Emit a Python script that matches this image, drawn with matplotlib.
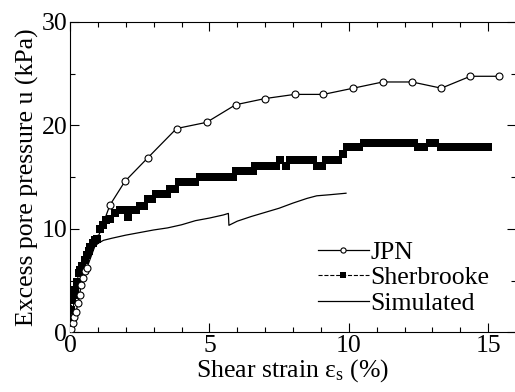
import matplotlib
matplotlib.use("Agg")
import matplotlib.pyplot as plt
from matplotlib.ticker import MultipleLocator

# JPN test (open circles)
jpn_x = [0.0, 0.05, 0.10, 0.15, 0.22, 0.28, 0.34, 0.40, 0.46, 0.54, 0.60,
         1.43, 1.97, 2.80, 3.82, 4.90, 5.94, 7.00, 8.06, 9.09, 10.16,
         11.22, 12.27, 13.32, 14.36, 15.40]
jpn_y = [0.0, 0.3, 0.9, 1.5, 2.0, 2.8, 3.6, 4.6, 5.3, 5.9, 6.2,
         12.3, 14.6, 16.9, 19.7, 20.3, 22.0, 22.6, 23.0, 23.0, 23.6,
         24.2, 24.2, 23.6, 24.75, 24.75]

# Sherbrooke test (filled squares)
sher_x = [0.00, 0.02, 0.03, 0.07, 0.13, 0.19, 0.25, 0.31, 0.37, 0.43, 0.52,
          0.61, 0.67, 0.73, 0.82, 0.90, 0.97, 1.07, 1.20, 1.30, 1.45, 1.60,
          1.79, 1.95, 2.08, 2.20, 2.35, 2.50, 2.65, 2.80, 2.95, 3.10, 3.30,
          3.47, 3.60, 3.78, 3.92, 4.10, 4.30, 4.50, 4.65, 4.85, 5.05, 5.25,
          5.45, 5.65, 5.85, 5.95, 6.15, 6.35, 6.55, 6.65, 6.85, 7.05, 7.25,
          7.40, 7.52, 7.75, 7.90, 8.10, 8.30, 8.50, 8.70, 8.85, 9.05, 9.20,
          9.40, 9.60, 9.78, 9.95, 10.15, 10.35, 10.55, 10.75, 10.95, 11.15,
          11.35, 11.55, 11.75, 11.95, 12.15, 12.35, 12.50, 12.70, 12.90,
          13.10, 13.30, 13.50, 13.70, 13.90, 14.10, 14.30, 14.50, 14.70,
          14.90, 15.00]
sher_y = [0.0, 1.3, 2.2, 3.1, 3.6, 4.1, 4.9, 5.7, 6.0, 6.4, 7.0,
          7.5, 7.9, 8.3, 8.6, 8.9, 9.0, 10.0, 10.4, 10.9, 11.0, 11.5,
          11.8, 11.8, 11.2, 11.8, 11.8, 12.2, 12.2, 12.9, 12.9, 13.35, 13.35,
          13.35, 13.9, 13.9, 14.5, 14.5, 14.5, 14.5, 15.0, 15.0, 15.0, 15.0,
          15.0, 15.0, 15.0, 15.6, 15.6, 15.6, 15.6, 16.1, 16.1, 16.1, 16.1,
          16.1, 16.7, 16.1, 16.7, 16.7, 16.7, 16.7, 16.7, 16.1, 16.1, 16.7,
          16.7, 16.7, 17.25, 17.9, 17.9, 17.9, 18.35, 18.35, 18.35, 18.35,
          18.35, 18.35, 18.35, 18.35, 18.35, 18.35, 17.9, 17.9, 18.35,
          18.35, 17.9, 17.9, 17.9, 17.9, 17.9, 17.9, 17.9, 17.9,
          17.9, 17.9]

# Simulated
sim_x = [0.0, 0.05, 0.15, 0.30, 0.50, 0.70, 0.85, 1.00, 1.20, 1.50, 2.00,
         2.50, 3.00, 3.50, 4.00, 4.50, 5.00, 5.50, 5.68, 5.70, 6.00, 6.50,
         7.00, 7.50, 8.00, 8.50, 8.85, 9.30, 9.90]
sim_y = [0.0, 1.5, 3.0, 4.6, 6.2, 7.5, 8.2, 8.6, 8.9, 9.1, 9.4,
         9.65, 9.9, 10.1, 10.4, 10.8, 11.05, 11.35, 11.5, 10.35, 10.75, 11.2,
         11.6, 12.0, 12.5, 12.95, 13.2, 13.3, 13.45]

plt.rcParams['font.family'] = 'serif'
plt.rcParams['font.serif'] = ['Liberation Serif', 'DejaVu Serif']
plt.rcParams['mathtext.fontset'] = 'custom'
plt.rcParams['mathtext.rm'] = 'Liberation Serif'
plt.rcParams['mathtext.it'] = 'Liberation Serif:italic'
plt.rcParams['font.size'] = 18.5

fig = plt.figure(figsize=(5.15, 3.92), dpi=100)
ax = fig.add_axes([0.136, 0.152, 0.866, 0.792])

ax.plot(sim_x, sim_y, color='black', lw=0.9, label='Simulated', zorder=2)
ax.plot(sher_x, sher_y, color='black', lw=0.8, linestyle='--', marker='s',
        markersize=5.6, markeredgewidth=0, label='Sherbrooke', zorder=3)
ax.plot(jpn_x, jpn_y, color='black', lw=0.9, marker='o', markersize=5,
        markerfacecolor='white', markeredgewidth=0.8, label='JPN', zorder=4)

ax.set_xlim(0, 16)
ax.set_ylim(0, 30)
ax.xaxis.set_major_locator(MultipleLocator(5))
ax.xaxis.set_minor_locator(MultipleLocator(1))
ax.yaxis.set_major_locator(MultipleLocator(10))
ax.yaxis.set_minor_locator(MultipleLocator(5))
ax.tick_params(which='both', direction='in', top=True, right=True)
ax.tick_params(which='major', length=6.5, width=0.8, pad=2)
ax.tick_params(which='minor', length=3.5, width=0.8)
for s in ax.spines.values():
    s.set_linewidth(0.8)

ax.set_xlabel('Shear strain ε$_\\mathrm{s}$ (%)', labelpad=0)
ax.set_ylabel('Excess pore pressure u (kPa)', labelpad=2)

h, l = ax.get_legend_handles_labels()
ax.legend(h[::-1], l[::-1], loc='upper left', bbox_to_anchor=(0.555, 0.295),
          frameon=False, handlelength=2.0, handletextpad=0.05,
          labelspacing=0.1, markerscale=0.75, borderaxespad=0,
          borderpad=0)

fig.savefig('out.png', dpi=100)
